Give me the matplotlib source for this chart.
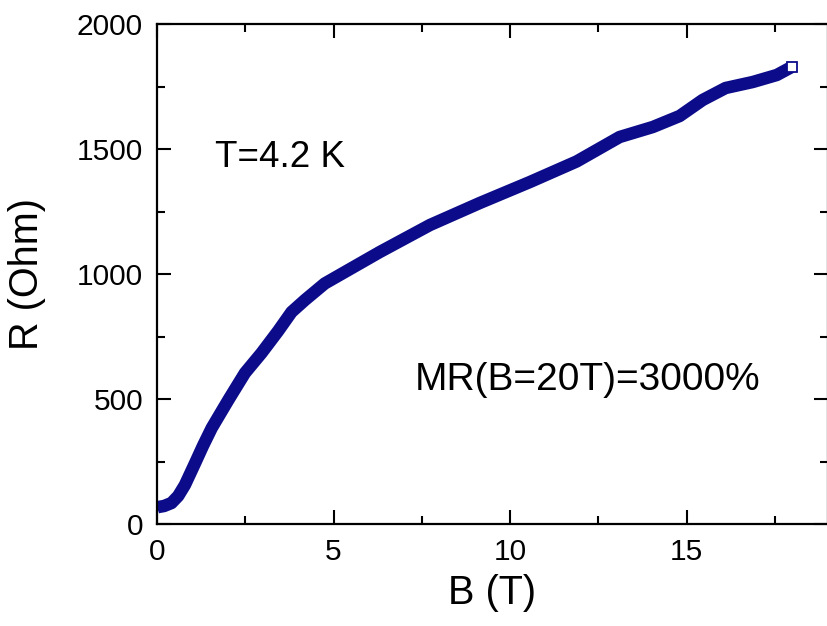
import matplotlib
matplotlib.use("Agg")
import matplotlib.pyplot as plt
from matplotlib.ticker import MultipleLocator

B = [0.0, 0.04, 0.2, 0.41, 0.6, 0.79, 1.08, 1.3, 1.55, 2.02, 2.49, 2.96, 3.43, 3.81,
     4.19, 4.75, 6.31, 7.73, 9.14, 10.56, 11.88, 13.1, 14.04, 14.8,
     15.45, 16.1, 16.87, 17.55, 17.97]
R = [66, 68, 72, 84, 112, 156, 244, 312, 384, 496, 604, 684, 772, 848,
     896, 962, 1088, 1196, 1284, 1368, 1450, 1548, 1588, 1632,
     1696, 1744, 1768, 1796, 1828]

plt.rcParams['font.family'] = ['Liberation Sans', 'DejaVu Sans']

fig = plt.figure(figsize=(8.27, 6.26), dpi=100)
ax = fig.add_axes([157/827, 1-524/626, 671/827, 500/626])

navy = '#0c0c8a'
ax.plot(B, R, color=navy, lw=9, solid_capstyle='butt', solid_joinstyle='round', zorder=2)
ax.plot(B[-1:], R[-1:], 's', ms=7.5, mfc='white', mec=navy, mew=1.3, zorder=3)

ax.set_xlim(0, 19)
ax.set_ylim(0, 2000)
ax.xaxis.set_major_locator(MultipleLocator(5))
ax.xaxis.set_minor_locator(MultipleLocator(2.5))
ax.yaxis.set_major_locator(MultipleLocator(500))
ax.yaxis.set_minor_locator(MultipleLocator(250))
ax.tick_params(which='both', direction='in', top=True, right=True, width=1.5,
               labelsize=21.5, pad=10)
ax.tick_params(which='major', length=10)
ax.tick_params(which='minor', length=6)
for s in ax.spines.values():
    s.set_linewidth(1.6)

ax.set_xlabel('B (T)', fontsize=28.5, labelpad=6)
ax.set_ylabel('R (Ohm)', fontsize=28.5, labelpad=22)

ax.text(1.64, 1428, 'T=4.2 K', fontsize=26.5)
ax.text(7.3, 536, 'MR(B=20T)=3000%', fontsize=28)

fig.savefig('out.png', dpi=100)
